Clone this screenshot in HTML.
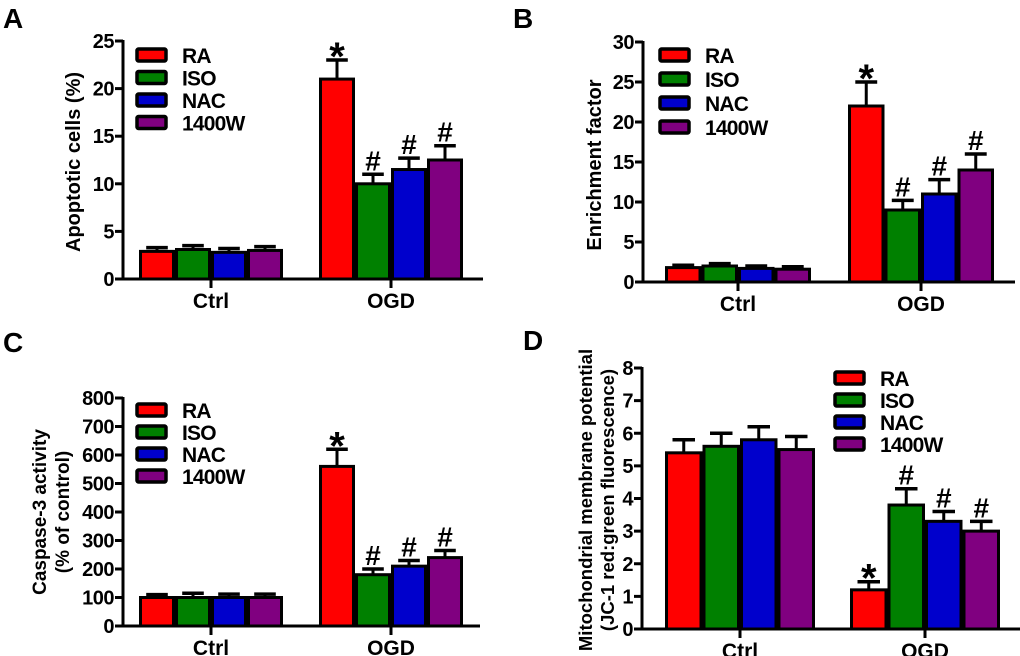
<!DOCTYPE html>
<html><head><meta charset="utf-8"><style>
body{margin:0;background:#fff;}
svg{display:block;font-family:"Liberation Sans",Arial,sans-serif;}
</style></head><body>
<svg id="fig" width="1020" height="656" viewBox="0 0 1020 656"></svg>
<script>
const groups = ["Ctrl","OGD"];
const series = ["RA","ISO","NAC","1400W"];
const colors = ["#ff0000","#008000","#0000cc","#800080"];
const valsA = [[2.9,3.1,2.8,3.0],[21,10,11.5,12.5]];
const errA = [[0.4,0.4,0.4,0.4],[2,1,1.2,1.5]];
const marksA = [["","","",""],["*","#","#","#"]];
const ticksA = [0,5,10,15,20,25];
const valsB = [[1.8,2.0,1.7,1.6],[22,9,11,14]];
const errB = [[0.3,0.3,0.3,0.3],[3,1.2,1.8,2]];
const marksB = [["","","",""],["*","#","#","#"]];
const ticksB = [0,5,10,15,20,25,30];
const valsC = [[100,100,100,100],[560,180,210,240]];
const errC = [[10,15,12,12],[60,20,20,25]];
const marksC = [["","","",""],["*","#","#","#"]];
const ticksC = [0,100,200,300,400,500,600,700,800];
const valsD = [[5.4,5.6,5.8,5.5],[1.2,3.8,3.3,3.0]];
const errD = [[0.4,0.4,0.4,0.4],[0.25,0.5,0.3,0.3]];
const marksD = [["","","",""],["*","#","#","#"]];
const ticksD = [0,1,2,3,4,5,6,7,8];

const NS="http://www.w3.org/2000/svg";
const svg=document.getElementById('fig');
function mk(tag,attrs,parent,text){const e=document.createElementNS(NS,tag);for(const k in attrs)e.setAttribute(k,attrs[k]);if(text!==undefined)e.textContent=text;(parent||svg).appendChild(e);return e;}

function panel(p){
  const g=mk('g',{});
  
  
  const lab=mk('text',{x:p.lx,y:p.ly,'font-size':28,'font-weight':'bold'},g,p.id);
  
  
  const max=p.ticks[p.ticks.length-1];
  const y=v=>p.y0-(v/max)*(p.y0-p.yt);
  for(let gi=0;gi<groups.length;gi++){
    const gx0=p.gx[gi];const bw=(p.gw)/4;
    for(let si=0;si<4;si++){
      const v=p.vals[gi][si],e=p.err[gi][si];
      const x=gx0+si*bw;const cx=x+bw/2;
      const ey=y(v+e);
      const el=mk('line',{x1:cx,x2:cx,y1:y(v),y2:ey,stroke:'#000','stroke-width':3},g);
      
      
      const cap=mk('line',{x1:cx-bw*0.3,x2:cx+bw*0.3,y1:ey,y2:ey,stroke:'#000','stroke-width':3.5},g);
      
      
      const r=mk('rect',{x:x+1.5,y:y(v),width:bw-3,height:p.y0-y(v),fill:colors[si],stroke:'#000','stroke-width':3},g);
      
      
      const m=p.marks[gi][si];
      if(m){const t=mk('text',{x:cx,y:m=='*'?ey+10:ey-4,'text-anchor':'middle','font-size':m=='*'?40:28,'font-weight':'bold'},g,m);
        
        }
    }
    const tx=gx0+p.gw/2;
    const tk=mk('line',{x1:tx,x2:tx,y1:p.y0,y2:p.y0+9,stroke:'#000','stroke-width':3},g);
    
    
    const gl=mk('text',{x:tx,y:p.y0+29,'text-anchor':'middle','font-size':21,'font-weight':'bold'},g,groups[gi]);
    
    
  }
  const ya=mk('line',{x1:p.ax,x2:p.ax,y1:p.yt-1,y2:p.y0+1.5,stroke:'#000','stroke-width':3},g);
  
  
  const xa=mk('line',{x1:p.ax,x2:p.axe,y1:p.y0,y2:p.y0,stroke:'#000','stroke-width':3},g);
  
  
  for(const t of p.ticks){
    const l=mk('line',{x1:p.ax-8,x2:p.ax,y1:y(t),y2:y(t),stroke:'#000','stroke-width':3},g);
    
    
    const tl=mk('text',{x:p.ax-9,y:y(t)+7,'text-anchor':'end','font-size':20,'font-weight':'bold','letter-spacing':-0.5},g,String(t));
    
    
  }
  p.title.forEach((line,i)=>{
    const tx=p.tx+i*p.tstep;
    const t=mk('text',{x:tx,y:p.ty,'text-anchor':'middle','font-size':p.tfs,'font-weight':'bold',transform:`rotate(-90 ${tx} ${p.ty})`},g,line);
    
    
  });
  for(let si=0;si<4;si++){
    const cy=p.legY+si*p.legStep;
    const r=mk('rect',{x:p.legX,y:cy-6,width:29,height:12,fill:colors[si],stroke:'#000','stroke-width':3.5,rx:1.5},g);
    
    
    const t=mk('text',{x:p.legX+45,y:cy+8,'font-size':21,'font-weight':'bold','letter-spacing':-0.8},g,series[si]);
    
    
  }
}

panel({id:'A',lx:3,ly:28,ax:123,axe:483,yt:41,y0:279,gx:[139,319],gw:144,vals:valsA,err:errA,marks:marksA,ticks:ticksA,
  title:['Apoptotic cells (%)'],tx:80,ty:162,tstep:0,tfs:20,legX:137,legY:55,legStep:22.5});
panel({id:'B',lx:513,ly:28,ax:643,axe:1015,yt:42,y0:282,gx:[665,848],gw:146,vals:valsB,err:errB,marks:marksB,ticks:ticksB,
  title:['Enrichment factor'],tx:601,ty:165,tstep:0,tfs:20,legX:660,legY:55,legStep:24});
panel({id:'C',lx:3,ly:352,ax:123,axe:480,yt:398,y0:626,gx:[139,319],gw:144,vals:valsC,err:errC,marks:marksC,ticks:ticksC,
  title:['Caspase-3 activity','(% of control)'],tx:46,ty:512,tstep:23,tfs:19,legX:137,legY:410,legStep:22});
panel({id:'D',lx:523,ly:350,ax:642,axe:1020,yt:368,y0:629,gx:[665,850],gw:150,vals:valsD,err:errD,marks:marksD,ticks:ticksD,
  title:['Mitochondrial membrane potential','(JC-1 red:green fluorescence)'],tx:592,ty:500,tstep:22,tfs:18.5,legX:835,legY:378,legStep:22});
</script>
</body></html>
